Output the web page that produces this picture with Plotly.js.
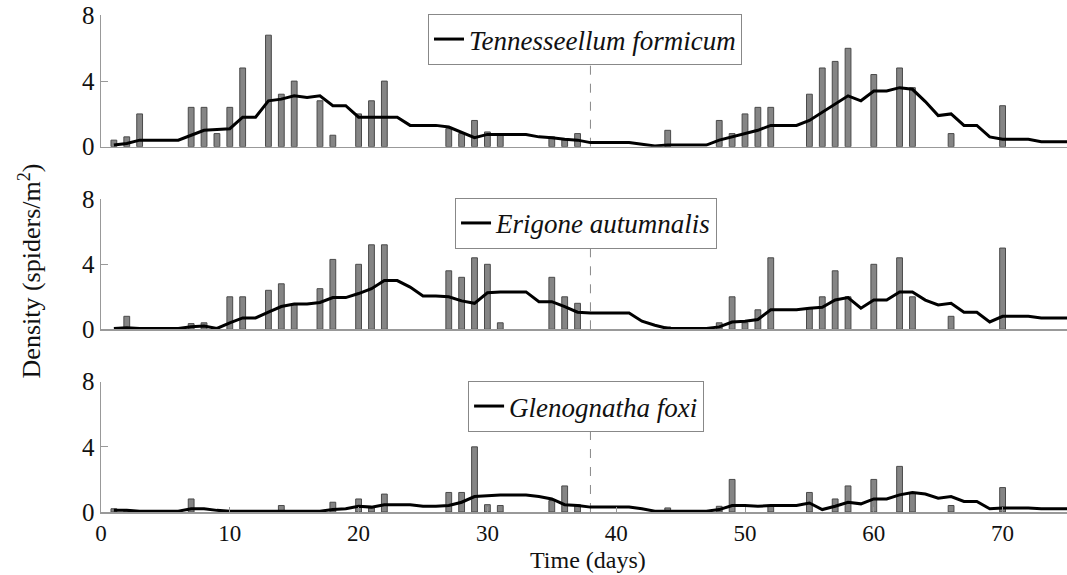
<!DOCTYPE html>
<html><head><meta charset="utf-8">
<script src="https://cdn.plot.ly/plotly-3.0.1.min.js"></script>
<style>html,body{margin:0;padding:0;background:#fff}#chart{width:1067px;height:575px}</style>
</head><body><div id="chart"></div>
<script>
// Line series (days 1..75)
const lineDays = [1,2,3,4,5,6,7,8,9,10,11,12,13,14,15,16,17,18,19,20,21,22,23,24,25,26,27,28,29,30,31,32,33,34,35,36,37,38,39,40,41,42,43,44,45,46,47,48,49,50,51,52,53,54,55,56,57,58,59,60,61,62,63,64,65,66,67,68,69,70,71,72,73,74,75];
const tfLine = [0.1,0.2,0.4,0.4,0.4,0.4,0.7,1.0,1.05,1.1,1.8,1.8,2.8,2.9,3.1,3.0,3.1,2.5,2.5,1.8,1.8,1.8,1.8,1.3,1.3,1.3,1.2,0.85,0.55,0.75,0.75,0.75,0.75,0.6,0.55,0.45,0.4,0.25,0.25,0.25,0.25,0.15,0.05,0.1,0.1,0.1,0.1,0.4,0.6,0.8,1.0,1.3,1.3,1.3,1.6,2.1,2.6,3.1,2.8,3.4,3.4,3.6,3.5,2.75,1.9,2.0,1.3,1.3,0.6,0.45,0.45,0.45,0.3,0.3,0.3];
const eaLine = [0.05,0.1,0.05,0.05,0.05,0.05,0.15,0.2,0.05,0.4,0.7,0.7,1.05,1.4,1.55,1.55,1.65,1.95,1.95,2.2,2.5,3.0,3.0,2.6,2.05,2.05,2.0,1.75,1.6,2.25,2.3,2.3,2.3,1.7,1.7,1.4,1.05,1.0,1.0,1.0,1.0,0.5,0.25,0.05,0.05,0.05,0.05,0.15,0.45,0.5,0.6,1.2,1.2,1.2,1.3,1.35,1.8,1.95,1.3,1.8,1.8,2.3,2.3,1.8,1.5,1.6,1.05,1.05,0.45,0.8,0.8,0.8,0.7,0.7,0.7];
const gfLine = [0.1,0.1,0.05,0.05,0.05,0.05,0.2,0.2,0.1,0.05,0.05,0.05,0.05,0.05,0.05,0.05,0.05,0.15,0.2,0.35,0.3,0.45,0.45,0.45,0.35,0.35,0.4,0.6,0.95,1.0,1.05,1.05,1.05,0.95,0.8,0.45,0.4,0.3,0.3,0.3,0.3,0.2,0.05,0.05,0.05,0.05,0.05,0.15,0.4,0.4,0.35,0.4,0.4,0.4,0.55,0.15,0.35,0.6,0.5,0.8,0.8,1.05,1.2,1.1,0.85,0.95,0.65,0.65,0.2,0.25,0.25,0.25,0.2,0.2,0.2];

// Bar series
const tfDays = [1,2,3,7,8,9,10,11,13,14,15,17,18,20,21,22,27,28,29,30,31,35,36,37,44,48,49,50,51,52,55,56,57,58,60,62,63,66,70];
const tfBars = [0.4,0.6,2.0,2.4,2.4,0.8,2.4,4.8,6.8,3.2,4.0,2.8,0.7,2.0,2.8,4.0,1.1,0.8,1.6,0.9,0.7,0.6,0.4,0.8,1.0,1.6,0.8,2.0,2.4,2.4,3.2,4.8,5.2,6.0,4.4,4.8,3.6,0.8,2.5];
const eaDays = [2,7,8,10,11,13,14,15,17,18,20,21,22,27,28,29,30,31,35,36,37,44,48,49,50,51,52,55,56,57,58,60,62,63,66,70];
const eaBars = [0.8,0.35,0.4,2.0,2.0,2.4,2.8,1.5,2.5,4.3,4.0,5.2,5.2,3.6,3.2,4.4,4.0,0.4,3.2,2.0,1.6,0.15,0.4,2.0,0.4,1.2,4.4,1.3,2.0,3.6,2.0,4.0,4.4,2.0,0.8,5.0];
const gfDays = [1,2,7,14,18,20,21,22,27,28,29,30,31,35,36,37,44,48,49,52,55,57,58,60,62,63,66,70];
const gfBars = [0.2,0.1,0.8,0.4,0.6,0.8,0.25,1.1,1.2,1.2,4.0,0.45,0.4,0.7,1.6,0.45,0.25,0.35,2.0,0.4,1.2,0.8,1.6,2.0,2.8,1.2,0.4,1.5];

const speciesNames = ['Tennesseellum formicum','Erigone autumnalis','Glenognatha foxi'];
const xTicks = [0,10,20,30,40,50,60,70];
const yTicks = [0,4,8];
const xTitle = 'Time (days)';
const yTitle = 'Density (spiders/m<sup>2</sup>)';
const releaseDay = 38;

const barSets = [[tfDays,tfBars],[eaDays,eaBars],[gfDays,gfBars]];
const lineSets = [tfLine,eaLine,gfLine];

const SERIF = 'Liberation Serif';
const AX = '#999999';
const traces = [];
const legendKeys = ['legend','legend2','legend3'];
for (let i = 0; i < 3; i++) {
  const sfx = i === 0 ? '' : String(i+1);
  traces.push({
    type:'bar', x: barSets[i][0], y: barSets[i][1], width: 0.45,
    xaxis:'x'+sfx, yaxis:'y'+sfx, showlegend:false, hoverinfo:'x+y',
    marker:{color:'#858585', line:{color:'#4a4a4a', width:1}}
  });
}
for (let i = 0; i < 3; i++) {
  const sfx = i === 0 ? '' : String(i+1);
  traces.push({
    type:'scatter', mode:'lines', x: lineDays, y: lineSets[i],
    xaxis:'x'+sfx, yaxis:'y'+sfx, name:'<i>'+speciesNames[i]+'</i>',
    legend: legendKeys[i], showlegend:true,
    line:{color:'#000', width:3}
  });
}

function xa(anchor, bottom) {
  const a = {range:[0,75], anchor:anchor, showline:true, linecolor:AX, linewidth:1.5,
    showgrid:false, zeroline:false, fixedrange:true};
  if (bottom) {
    Object.assign(a, {tickvals:xTicks, ticks:'inside', ticklen:5, tickcolor:AX, tickwidth:1,
      tickfont:{family:SERIF, size:23, color:'#111'}});
  } else {
    Object.assign(a, {showticklabels:false, ticks:'', matches:'x'});
  }
  return a;
}
function ya(domain, anchor) {
  return {domain:domain, range:[0,8], anchor:anchor, tickvals:yTicks, ticks:'inside', ticklen:7,
    tickcolor:AX, tickwidth:1, showline:true, linecolor:AX, linewidth:1.5, showgrid:false,
    zeroline:false, fixedrange:true, tickfont:{family:SERIF, size:25, color:'#111'}};
}
function leg(x, y) {
  return {x:x, y:y, xanchor:'left', yanchor:'top', bgcolor:'#ffffff', bordercolor:'#888',
    borderwidth:1, itemwidth:30, font:{family:SERIF, size:27, color:'#111'}, tracegroupgap:0};
}
const shapes = [];
for (let i = 0; i < 3; i++) {
  const sfx = i === 0 ? '' : String(i+1);
  shapes.push({type:'line', xref:'x'+sfx, yref:'y'+sfx, x0:releaseDay, x1:releaseDay, y0:0, y1:5.4,
    layer:'below', line:{color:'#888', width:1, dash:'dash'}});
}

const layout = {
  width:1067, height:575, margin:{l:101, r:0, t:15, b:63},
  paper_bgcolor:'#fff', plot_bgcolor:'#fff',
  font:{family:SERIF, size:25, color:'#111'},
  xaxis: xa('y', false), xaxis2: xa('y2', false), xaxis3: xa('y3', true),
  yaxis: ya([0.735,0.999],'x'), yaxis2: ya([0.3676,0.6292],'x2'), yaxis3: ya([0,0.2622],'x3'),
  legend: leg(0.3385, 1.002), legend2: leg(0.3665, 0.632), legend3: leg(0.38, 0.2636),
  shapes: shapes,
  annotations:[
    {xref:'paper', yref:'paper', x:-0.073, y:0.485, xanchor:'center', yanchor:'middle',
     text:yTitle, textangle:-90, showarrow:false, font:{family:SERIF, size:26, color:'#111'}},
    {xref:'paper', yref:'paper', x:0.504, y:-0.1268, xanchor:'center', yanchor:'bottom',
     text:xTitle, showarrow:false, font:{family:SERIF, size:24, color:'#111'}}
  ]
};
Plotly.newPlot('chart', traces, layout, {displayModeBar:false, staticPlot:true});
</script></body></html>
